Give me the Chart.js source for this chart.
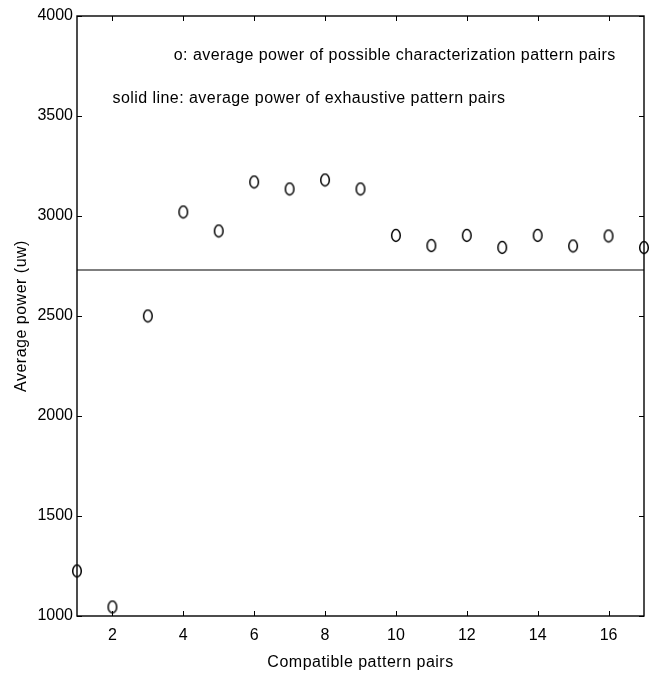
<!DOCTYPE html>
<html>
<head>
<meta charset="utf-8">
<script src="https://cdn.jsdelivr.net/npm/chart.js@4.4.1/dist/chart.umd.min.js"></script>
<style>
  html, body { margin: 0; padding: 0; background: #ffffff; }
  #wrap { width: 652px; height: 677px; position: relative; }
</style>
</head>
<body>
<div id="wrap"><canvas id="c" width="652" height="677"></canvas></div>
<script>
// ---- data ----
const compatiblePairs = [1, 2, 3, 4, 5, 6, 7, 8, 9, 10, 11, 12, 13, 14, 15, 16, 17];
const avgPowerCharacterization = [1225, 1045, 2500, 3020, 2925, 3170, 3135, 3180, 3135, 2903, 2852, 2903, 2843, 2903, 2850, 2900, 2842];
const exhaustiveAvgPower = 2730;
const xTickValues = [2, 4, 6, 8, 10, 12, 14, 16];
const yTickValues = [1000, 1500, 2000, 2500, 3000, 3500, 4000];
const xTitle = 'Compatible pattern pairs';
const yTitle = 'Average power (uw)';
const noteLines = [
  'o: average power of possible characterization pattern pairs',
  'solid line: average power of exhaustive pattern pairs'
];

// ellipse marker (open "o")
function makeMarker() {
  const c = document.createElement('canvas');
  c.width = 12; c.height = 15;
  const g = c.getContext('2d');
  g.strokeStyle = '#000';
  g.lineWidth = 1.5;
  g.beginPath();
  g.ellipse(6, 7.5, 4.3, 5.9, 0, 0, Math.PI * 2);
  g.stroke();
  return c;
}
const marker = makeMarker();

const FONT = '"Liberation Sans", Arial, Helvetica, sans-serif';

function spacedTitle(s) {
  if (s._spacedWrapped) return;
  const orig = s.drawTitle;
  s.drawTitle = function () {
    this.ctx.save();
    this.ctx.letterSpacing = '0.5px';
    orig.apply(this, arguments);
    this.ctx.restore();
  };
  s._spacedWrapped = true;
}

const framePlugin = {
  id: 'frame',
  afterDraw(chart) {
    const ctx = chart.ctx;
    const a = chart.chartArea;
    const xs = chart.scales.x, ys = chart.scales.y;
    ctx.save();
    ctx.strokeStyle = '#000';
    ctx.lineWidth = 1.4;
    ctx.strokeRect(a.left, a.top, a.right - a.left, a.bottom - a.top);
    const tl = 5;
    ctx.lineWidth = 1;
    ctx.beginPath();
    xTickValues.forEach(v => {
      const px = Math.round(xs.getPixelForValue(v)) + 0.5;
      ctx.moveTo(px, a.bottom); ctx.lineTo(px, a.bottom - tl);
      ctx.moveTo(px, a.top); ctx.lineTo(px, a.top + tl);
    });
    yTickValues.forEach(v => {
      const py = Math.round(ys.getPixelForValue(v)) + 0.5;
      ctx.moveTo(a.left, py); ctx.lineTo(a.left + tl, py);
      ctx.moveTo(a.right, py); ctx.lineTo(a.right - tl, py);
    });
    ctx.stroke();
    // annotation notes
    ctx.fillStyle = '#000';
    ctx.font = '16px ' + FONT;
    ctx.textBaseline = 'middle';
    ctx.textAlign = 'left';
    ctx.letterSpacing = '0.45px';
    ctx.fillText(noteLines[0], xs.getPixelForValue(3.73), ys.getPixelForValue(3800));
    ctx.fillText(noteLines[1], xs.getPixelForValue(2.0), ys.getPixelForValue(3585));
    ctx.restore();
  }
};

new Chart(document.getElementById('c'), {
  data: {
    datasets: [
      {
        type: 'line',
        label: 'exhaustive',
        data: [{x: compatiblePairs[0], y: exhaustiveAvgPower}, {x: compatiblePairs[compatiblePairs.length - 1], y: exhaustiveAvgPower}],
        borderColor: '#000',
        borderWidth: 1.2,
        pointRadius: 0,
        fill: false
      },
      {
        type: 'scatter',
        label: 'characterization',
        data: compatiblePairs.map((x, i) => ({x: x, y: avgPowerCharacterization[i]})),
        pointStyle: marker,
        pointRadius: 6,
        clip: false
      }
    ]
  },
  options: {
    responsive: false,
    animation: false,
    devicePixelRatio: 1,
    layout: { padding: { top: 16, right: 8, left: 0, bottom: 0 } },
    plugins: { legend: { display: false }, tooltip: { enabled: false } },
    scales: {
      x: {
        type: 'linear',
        min: 1, max: 17,
        afterBuildTicks: s => { s.ticks = xTickValues.map(v => ({value: v})); },
        afterFit: s => { s.height = 61; spacedTitle(s); },
        grid: { display: false, drawTicks: false },
        border: { display: false },
        ticks: { color: '#000', padding: 10, font: { family: FONT, size: 16 }, maxRotation: 0, autoSkip: false },
        title: { display: true, text: xTitle, color: '#000', font: { family: FONT, size: 16 }, padding: { top: 0, bottom: 5 } }
      },
      y: {
        type: 'linear',
        min: 1000, max: 4000,
        afterBuildTicks: s => { s.ticks = yTickValues.map(v => ({value: v})); },
        afterFit: s => { s.width = 77; spacedTitle(s); },
        grid: { display: false, drawTicks: false },
        border: { display: false },
        ticks: { color: '#000', padding: 4, font: { family: FONT, size: 16 }, autoSkip: false, callback: v => String(v) },
        title: { display: true, text: yTitle, color: '#000', font: { family: FONT, size: 16 }, padding: { top: 12, bottom: 0 } }
      }
    }
  },
  plugins: [framePlugin]
});
</script>
</body>
</html>
